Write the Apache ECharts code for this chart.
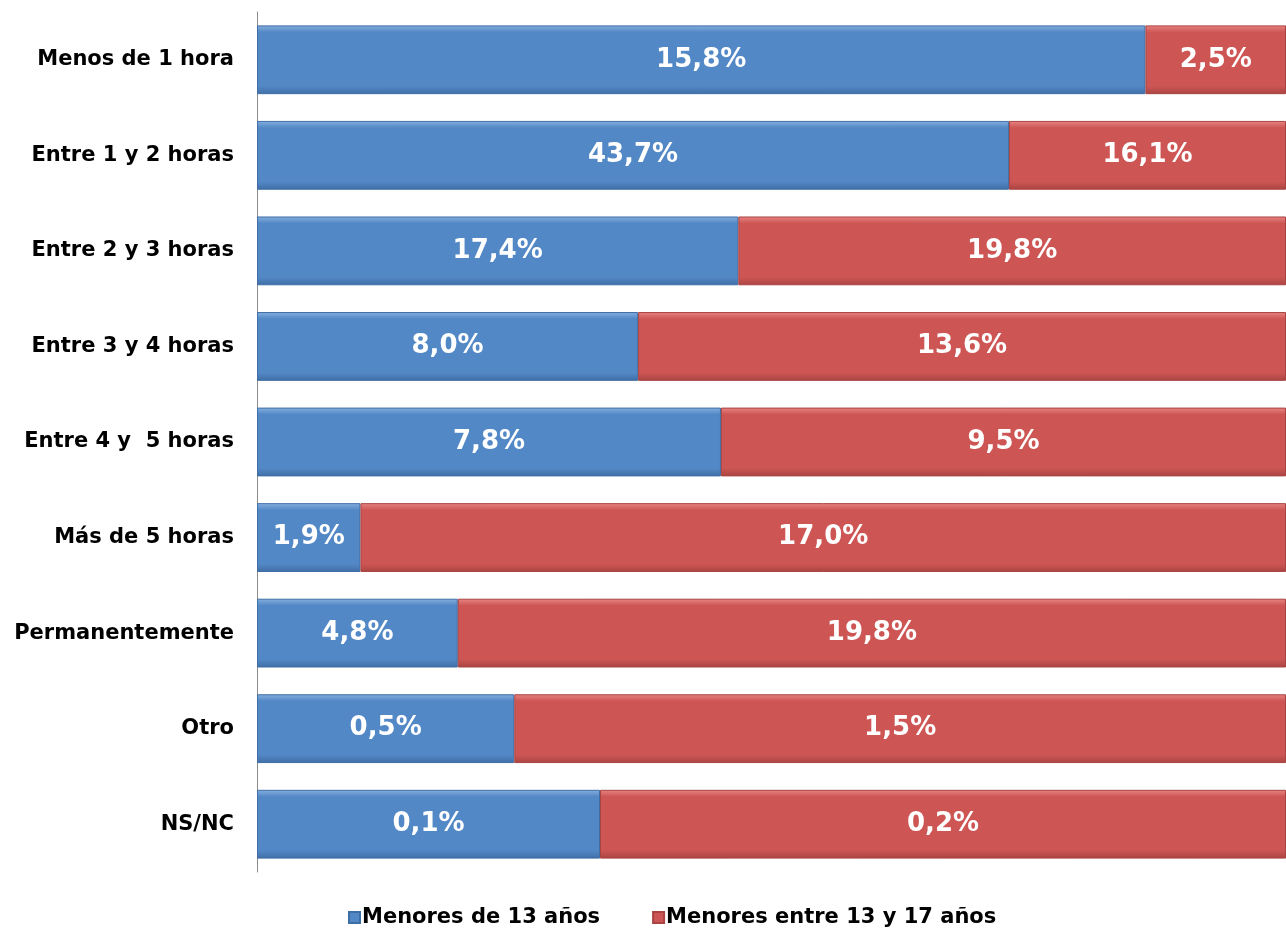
<!DOCTYPE html>
<html>
<head>
<meta charset="utf-8">
<script src="https://cdn.jsdelivr.net/npm/echarts@6/dist/echarts.min.js"></script>
<style>
  html, body { margin: 0; padding: 0; background: #fff; }
  #chart { width: 1286px; height: 931px; }
</style>
</head>
<body>
<div id="chart"></div>
<script>
// franjas de tiempo (de arriba a abajo)
const categories = [
  'Menos de 1 hora', 'Entre 1 y 2 horas', 'Entre 2 y 3 horas', 'Entre 3 y 4 horas',
  'Entre 4 y  5 horas', 'Más de 5 horas', 'Permanentemente', 'Otro', 'NS/NC'
]
const menores13 = [15.8, 43.7, 17.4, 8.0, 7.8, 1.9, 4.8, 0.5, 0.1]
const menores13a17 = [2.5, 16.1, 19.8, 13.6, 9.5, 17.0, 19.8, 1.5, 0.2]
const seriesNames = ['Menores de 13 años', 'Menores entre 13 y 17 años']

// barras al 100%: cada fila se reparte según su total
const share = (arr, i) => arr[i] / (menores13[i] + menores13a17[i]) * 100
const fmt = v => v.toFixed(1).replace('.', ',') + '%'

const build = (name, raw, color, border) => ({
  name: name,
  type: 'bar',
  stack: 'total',
  barCategoryGap: '28%',
  data: raw.map((v, i) => ({ value: share(raw, i), raw: v })),
  itemStyle: {
    color: {
      type: 'linear', x: 0, y: 0, x2: 0, y2: 1,
      colorStops: [
        { offset: 0, color: border[0] },
        { offset: 0.1, color: color },
        { offset: 0.88, color: color },
        { offset: 1, color: border[1] }
      ]
    },
    borderColor: border[1],
    borderWidth: 1
  },
  label: {
    show: true,
    position: 'inside',
    color: '#fff',
    fontFamily: 'DejaVu Sans',
    fontWeight: 'bold',
    fontSize: 26,
    padding: [4, 0, 0, 0],
    formatter: p => fmt(p.data.raw)
  }
})

const chart = echarts.init(document.getElementById('chart'))
chart.setOption({
  animation: false,
  grid: { left: 257, right: 0, top: 12, bottom: 59 },
  legend: {
    data: seriesNames,
    left: 343,
    bottom: -2,
    itemWidth: 11,
    itemHeight: 11,
    itemGap: 52,
    icon: 'rect',
    textStyle: { fontFamily: 'DejaVu Sans', fontWeight: 'bold', fontSize: 21, color: '#000', padding: [0, 0, 0, -3] }
  },
  xAxis: {
    type: 'value',
    min: 0,
    max: 100,
    show: false
  },
  yAxis: {
    type: 'category',
    inverse: true,
    data: categories,
    axisLine: { show: true, lineStyle: { color: '#8c8c8c', width: 1 } },
    axisTick: { show: false },
    axisLabel: {
      margin: 23,
      color: '#000',
      fontFamily: 'DejaVu Sans',
      fontWeight: 'bold',
      fontSize: 21,
      padding: [4, 0, 0, 0]
    }
  },
  series: [
    build(seriesNames[0], menores13, '#5388c6', ['#86b0df', '#3f6ea6']),
    build(seriesNames[1], menores13a17, '#cd5654', ['#e88583', '#a94442'])
  ]
})
</script>
</body>
</html>
